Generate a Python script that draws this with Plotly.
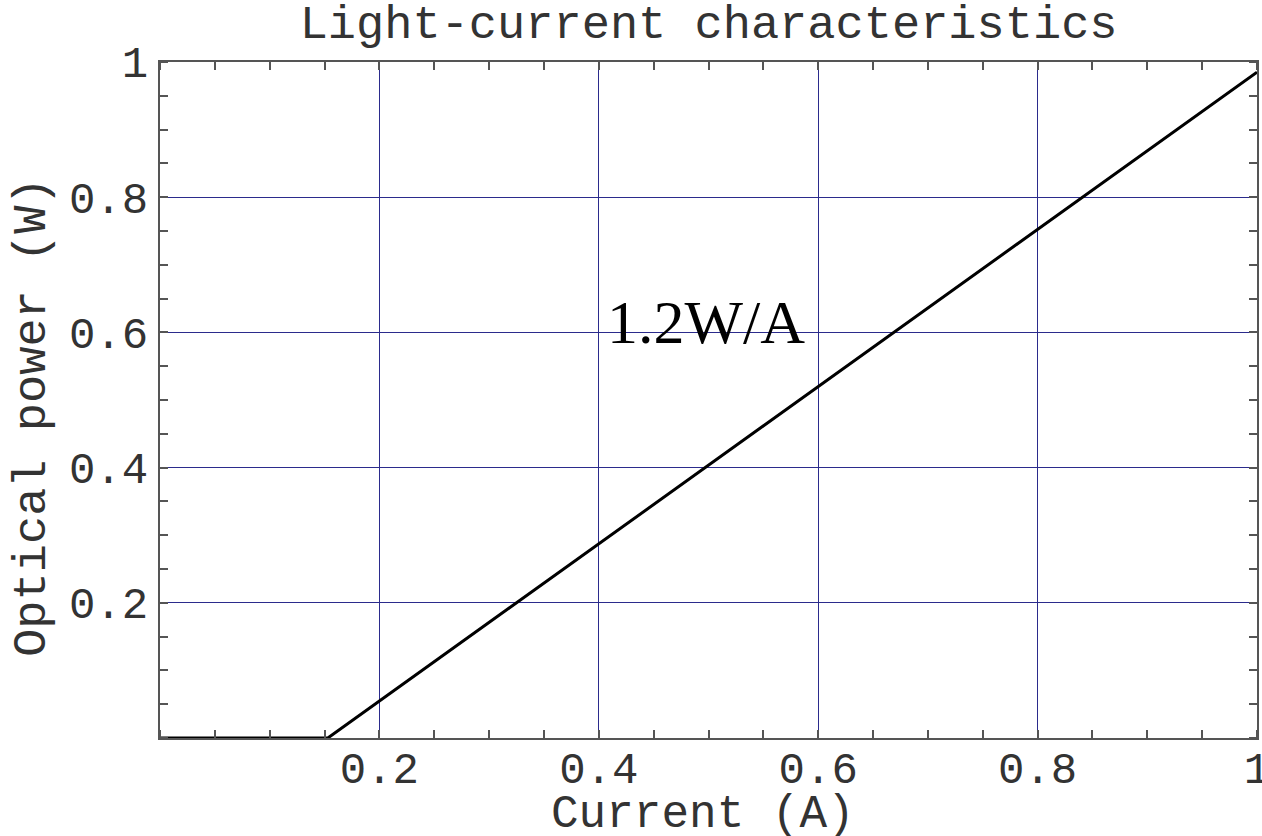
import plotly.graph_objects as go

# Data
current = [0.0, 0.153, 1.0]
power = [0.0, 0.0, 0.985]
x_ticks = [0.2, 0.4, 0.6, 0.8, 1.0]
x_tick_labels = ["0.2", "0.4", "0.6", "0.8", "1"]
y_ticks = [0.2, 0.4, 0.6, 0.8, 1.0]
y_tick_labels = ["0.2", "0.4", "0.6", "0.8", "1"]

mono = "Liberation Mono, Courier New, monospace"
frame = "#555555"
grid = "#2b2b8c"
txt = "#333333"

fig = go.Figure()
fig.add_trace(go.Scatter(x=current, y=power, mode="lines",
                         line=dict(color="black", width=3),
                         cliponaxis=False, showlegend=False))

axis_common = dict(
    range=[0, 1], showline=True, linecolor=frame, linewidth=2, mirror="allticks",
    showgrid=True, gridcolor=grid, gridwidth=1.3, zeroline=False, automargin=False,
    ticks="", ticklen=0, tickfont=dict(family=mono, size=44, color=txt),
    ticklabeloverflow="allow",
    minor=dict(dtick=0.05, tick0=0, ticks="inside", ticklen=8, tickcolor=frame,
               tickwidth=1.5, showgrid=False),
)

fig.update_xaxes(**axis_common, tickmode="array", tickvals=x_ticks, ticktext=x_tick_labels,
                 ticklabelstandoff=-10)
fig.update_yaxes(**axis_common, tickmode="array", tickvals=y_ticks, ticktext=y_tick_labels,
                 ticklabelstandoff=1)

# axis titles (placed as annotations to match the reference's exact positions)
fig.add_annotation(x=0.495, y=-0.1139, xref="paper", yref="paper", text="Current (A)",
                   showarrow=False, xanchor="center", yanchor="middle",
                   font=dict(family=mono, size=46, color=txt))
fig.add_annotation(x=-0.1158, y=0.475, xref="paper", yref="paper", text="Optical power (W)",
                   textangle=-90, showarrow=False, xanchor="center", yanchor="middle",
                   font=dict(family=mono, size=47, color=txt))

fig.add_annotation(x=0.498, y=0.616, xref="x", yref="y", text="1.2W/A", showarrow=False,
                   font=dict(family="Liberation Serif, Times New Roman, serif", size=62, color="black"),
                   xanchor="center", yanchor="middle")

fig.update_layout(
    width=1262, height=836,
    margin=dict(l=160, r=5, t=62, b=98),
    paper_bgcolor="white", plot_bgcolor="white",
    title=dict(text="Light-current characteristics", x=0.5615, xanchor="center",
               y=0.974, yanchor="middle",
               font=dict(family=mono, size=47, color=txt)),
)

fig.write_html("out.html", config={"displayModeBar": False},
               post_script="document.body.style.margin='0';document.body.style.overflow='hidden';")
